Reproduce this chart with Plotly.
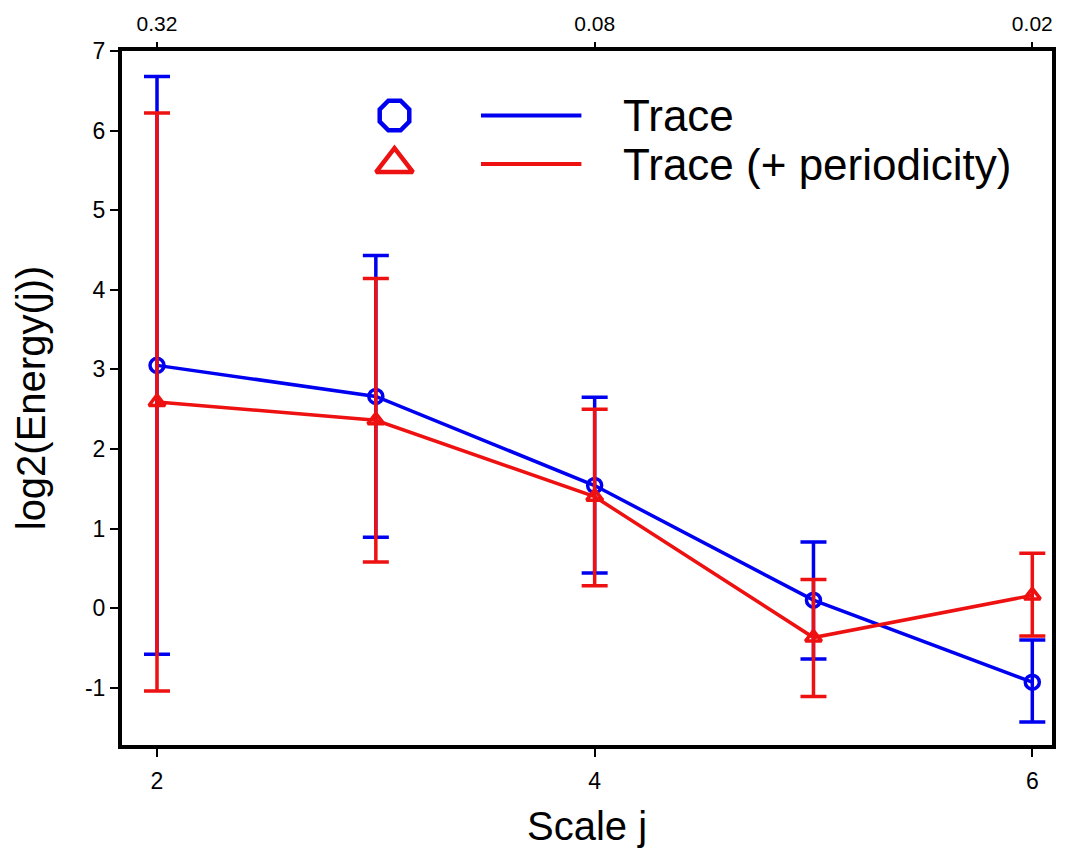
import plotly.graph_objects as go

# Data
scales = [2, 3, 4, 5, 6]
trace_mean = [3.05, 2.66, 1.54, 0.10, -0.93]
trace_upper = [6.68, 4.43, 2.65, 0.83, -0.40]
trace_lower = [-0.58, 0.89, 0.44, -0.64, -1.43]

period_mean = [2.59, 2.36, 1.40, -0.37, 0.16]
period_upper = [6.22, 4.14, 2.50, 0.36, 0.69]
period_lower = [-1.04, 0.58, 0.28, -1.11, -0.35]

bottom_ticks = [2, 4, 6]
top_ticks = [2, 4, 6]
top_tick_labels = ["0.32", "0.08", "0.02"]
y_ticks = [-1, 0, 1, 2, 3, 4, 5, 6, 7]
y_tick_labels = ["-1", "0", "1", "2", "3", "4", "5", "6", "7"]

legend_names = ["Trace", "Trace (+ periodicity)"]
colors = ["#0000f0", "#ee1111"]
symbols = ["circle-open", "triangle-up-open"]
legend_symbols = ["octagon-open", "triangle-up-open"]

series = [
    (trace_mean, trace_upper, trace_lower),
    (period_mean, period_upper, period_lower),
]

fig = go.Figure()
for (m, up, lo), name, c, s in zip(series, legend_names, colors, symbols):
    fig.add_trace(go.Scatter(
        x=scales, y=m, mode="lines+markers", name=name,
        line=dict(color=c, width=3.5),
        marker=dict(symbol=s, size=14, color=c, line=dict(color=c, width=3.5)),
        error_y=dict(type="data", symmetric=False,
                     array=[u - v for u, v in zip(up, m)],
                     arrayminus=[v - l for v, l in zip(m, lo)],
                     color=c, thickness=3.5, width=13),
        showlegend=False,
    ))

# invisible trace for top axis
fig.add_trace(go.Scatter(x=scales, y=trace_mean, xaxis="x2", mode="markers",
                         marker=dict(opacity=0), showlegend=False, hoverinfo="skip"))

# custom legend (markers on a hidden unit axis overlaying the plot)
leg_x_marker = 0.293
leg_y = [0.907, 0.837]
leg_line_x = [0.386, 0.494]
leg_text_x = 0.538
for name, c, s, ly in zip(legend_names, colors, legend_symbols, leg_y):
    fig.add_trace(go.Scatter(
        x=[leg_x_marker], y=[ly], xaxis="x3", yaxis="y3", mode="markers",
        marker=dict(symbol=s, size=32, color=c, line=dict(color=c, width=4.5)),
        showlegend=False, hoverinfo="skip"))
    fig.add_trace(go.Scatter(
        x=leg_line_x, y=[ly, ly], xaxis="x3", yaxis="y3", mode="lines",
        line=dict(color=c, width=4), showlegend=False, hoverinfo="skip"))
    fig.add_annotation(x=leg_text_x, y=ly, xref="x3", yref="y3", text=name,
                       showarrow=False, xanchor="left", yanchor="middle",
                       borderpad=0,
                       font=dict(size=44, color="black", family="Liberation Sans"))

tick_font = dict(size=23, family="Liberation Sans")
top_tick_font = dict(size=21, family="Liberation Sans")
xrange = [1.84, 6.09]
fig.update_layout(
    width=1072, height=854,
    paper_bgcolor="white", plot_bgcolor="white",
    margin=dict(l=114, r=28, t=43, b=117, autoexpand=False),
    font=dict(family="Liberation Sans", color="black"),
    xaxis=dict(range=xrange, tickvals=bottom_ticks, ticks="outside", ticklen=8,
               tickwidth=2, tickcolor="black", showgrid=False, zeroline=False,
               showline=True, linewidth=4, linecolor="black", mirror=True,
               tickfont=tick_font, ticklabelstandoff=4, automargin=False,
               title=dict(text="Scale j", font=dict(size=40), standoff=20)),
    xaxis2=dict(range=xrange, overlaying="x", side="top", tickvals=top_ticks,
                ticktext=top_tick_labels, ticks="outside", ticklen=8, tickwidth=2,
                tickcolor="black", showgrid=False, zeroline=False, showline=False,
                tickfont=top_tick_font, ticklabelstandoff=3, automargin=False),
    yaxis=dict(range=[-1.72, 7.0], tickvals=y_ticks, ticktext=y_tick_labels,
               ticks="outside", ticklen=8,
               tickwidth=2, tickcolor="black", showgrid=False, zeroline=False,
               showline=True, linewidth=4, linecolor="black", mirror=True,
               tickfont=tick_font, automargin=False,
               title=dict(text="log2(Energy(j))", font=dict(size=40), standoff=28)),
    xaxis3=dict(overlaying="x", range=[0, 1], anchor="y3", visible=False),
    yaxis3=dict(overlaying="y", range=[0, 1], anchor="x3", visible=False),
)

fig.write_html("out.html")
